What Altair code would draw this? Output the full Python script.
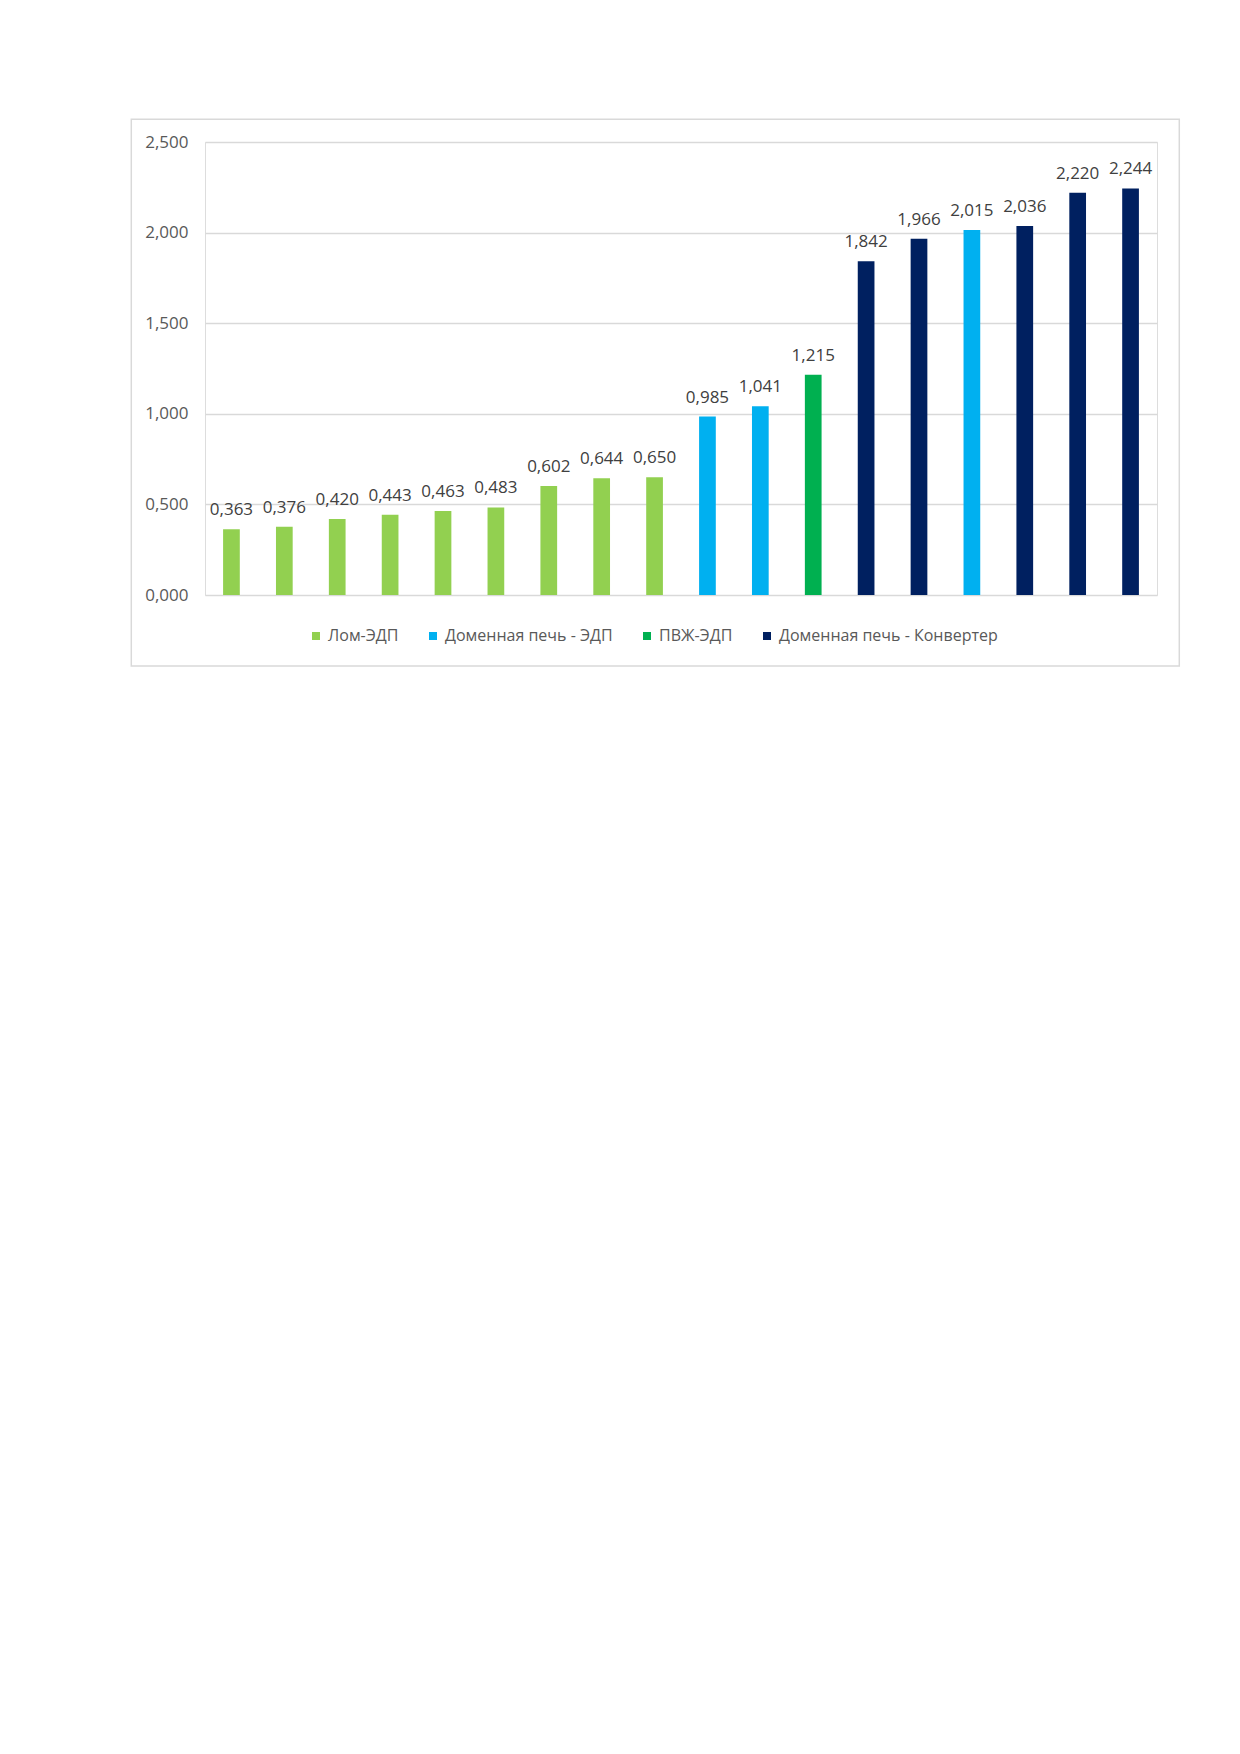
import altair as alt
import pandas as pd

groups = ["Лом-ЭДП", "Доменная печь - ЭДП", "ПВЖ-ЭДП", "Доменная печь - Конвертер"]
colors = ["#92D050", "#00B0F0", "#00B050", "#002060"]

values = [0.363, 0.376, 0.420, 0.443, 0.463, 0.483, 0.602, 0.644, 0.650,
          0.985, 1.041, 1.215, 1.842, 1.966, 2.015, 2.036, 2.220, 2.244]
bar_groups = ["Лом-ЭДП"] * 9 + ["Доменная печь - ЭДП"] * 2 + ["ПВЖ-ЭДП"] + \
             ["Доменная печь - Конвертер"] * 2 + ["Доменная печь - ЭДП"] + \
             ["Доменная печь - Конвертер"] * 3
y_ticks = [0, 0.5, 1.0, 1.5, 2.0, 2.5]

df = pd.DataFrame({
    "idx": list(range(len(values))),
    "value": values,
    "group": bar_groups,
})

FONT = "Open Sans"
W, H = 952, 453

x = alt.X("idx:O", axis=None,
          scale=alt.Scale(paddingInner=0.684, paddingOuter=0.342))

bars = alt.Chart(df).mark_bar().encode(
    x=x,
    y=alt.Y("value:Q",
            scale=alt.Scale(domain=[0, 2.5], nice=False),
            axis=alt.Axis(values=y_ticks, title=None, domain=False, ticks=False,
                          grid=True, gridColor="#D9D9D9", gridWidth=1.3,
                          labelExpr="replace(format(datum.value, '.3f'), '.', ',')",
                          labelFont=FONT, labelFontSize=17, labelColor="#595959",
                          labelPadding=17)),
    color=alt.Color("group:N",
                    scale=alt.Scale(domain=groups, range=colors),
                    legend=alt.Legend(title=None, orient="none", direction="horizontal",
                                      legendX=103, legendY=486,
                                      symbolType="square", symbolSize=64,
                                      symbolStrokeWidth=0, labelFont=FONT,
                                      labelFontSize=16, labelColor="#595959",
                                      labelLimit=400,
                                      labelOffset=4, columnPadding=26, padding=0)),
)

labels = alt.Chart(df).transform_calculate(
    lab="replace(format(datum.value, '.3f'), '.', ',')"
).mark_text(font=FONT, fontSize=17, color="#404040", baseline="alphabetic",
            dy=-14).encode(
    x=x,
    y=alt.Y("value:Q"),
    text="lab:N",
)

frame = alt.Chart(pd.DataFrame({"a": [0]})).mark_rect(
    fill=None, stroke="#D9D9D9", strokeWidth=1.5
).encode(
    x=alt.value(-73.7), x2=alt.value(974.3),
    y=alt.value(-22.7), y2=alt.value(524),
)

chart = alt.layer(frame, bars, labels).properties(
    width=W, height=H,
    autosize=alt.AutoSizeParams(type="none"),
    padding={"left": 197, "top": 134, "right": 50, "bottom": 120},
).configure_view(strokeWidth=0, stroke="transparent").configure(background="white")

chart.save("out.html", embed_options={"renderer": "svg", "actions": False})
